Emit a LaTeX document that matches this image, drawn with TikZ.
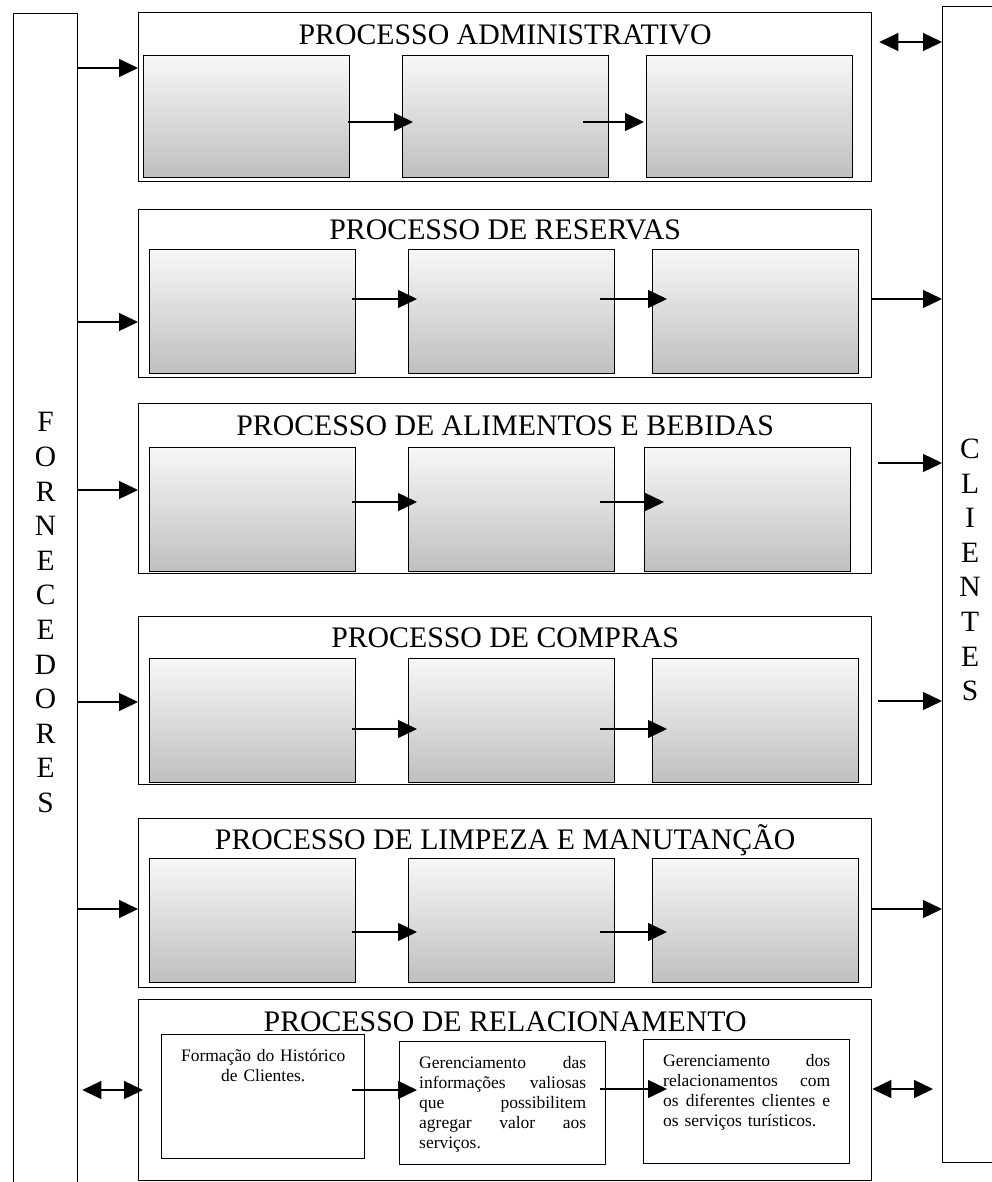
\documentclass[tikz,border=0pt]{standalone}
\usepackage{fontspec}
\setmainfont{Liberation Serif}
\usetikzlibrary{positioning}
\usetikzlibrary{arrows.meta}
\newcommand{\linhaj}[1]{\leavevmode\hbox to 167pt{#1}}
\tikzset{
 processo/.style={
 rectangle, anchor=north west,
 draw=black, line width=1.3pt,
 minimum width=733pt,
 minimum height=169pt},
 etapa/.style={
 rectangle, anchor=north west,
 draw=black, line width=1.4pt,
 top color=black!3, bottom color=black!25,
 minimum width=206pt,
 minimum height=124pt},
 caixa/.style={
 rectangle, anchor=north west,
 draw=black, line width=1.4pt, fill=white,
 minimum width=206pt,
 minimum height=124pt},
 lateral/.style={
 rectangle, anchor=north west,
 draw=black, line width=1.3pt,
 minimum width=64pt},
 letras/.style={
 align=center, inner sep=0pt,
 font=\fontsize{29.5}{34.6}\selectfont},
 titulo/.style={
 anchor=base, inner sep=0pt,
 font=\fontsize{29.8}{34.6}\selectfont},
 texto/.style={
 anchor=north, inner sep=0pt,
 text width=167pt,
 font=\fontsize{17.5}{20}\selectfont},
 seta/.style={
 line width=1.3pt, -{Triangle[length=19pt,width=18pt]}},
 dupla/.style={
 line width=1.3pt, {Triangle[length=19pt,width=18pt]}-{Triangle[length=19pt,width=18pt]}},
 fluxo/.style={seta, shorten <=-4pt, shorten >=-9pt},
 fluxob/.style={seta, shorten <=-15pt, shorten >=-15pt}
}

\begin{document}
\begin{tikzpicture}[x=1pt,y=-1pt]
 \useasboundingbox (0,0) rectangle (992,1182);

 \node[lateral, letras, minimum height=1198pt] (forn) at (13,13) {F\\O\\R\\N\\E\\C\\E\\D\\O\\R\\E\\S};
 \node[lateral, minimum width=70pt, minimum height=1156pt] (cli) at (942,6) {};
 \node[letras] (cliT) at (970,570) {C\\L\\I\\E\\N\\T\\E\\S};

 \node[processo] (adm) at (138,12) {};
 \node[etapa, minimum height=122pt] (adm1) at (143,55) {};
 \node[etapa, minimum height=122pt] (adm2) at (402,55) {};
 \node[etapa, minimum height=122pt] (adm3) at (646,55) {};
 \node[titulo] (admT) at ([yshift=-33pt]adm.north) {PROCESSO ADMINISTRATIVO};

 \node[processo, minimum height=168pt] (res) at (138,209) {};
 \node[etapa] (res1) at (149,249) {};
 \node[etapa] (res2) at (408,249) {};
 \node[etapa] (res3) at (652,249) {};
 \node[titulo] (resT) at ([yshift=-31pt]res.north) {PROCESSO DE RESERVAS};

 \node[processo, minimum height=170pt] (ali) at (138,403) {};
 \node[etapa] (ali1) at (149,447) {};
 \node[etapa] (ali2) at (408,447) {};
 \node[etapa] (ali3) at (644,447) {};
 \node[titulo] (aliT) at ([yshift=-32pt]ali.north) {PROCESSO DE ALIMENTOS E BEBIDAS};

 \node[processo, minimum height=168pt] (com) at (138,616) {};
 \node[etapa] (com1) at (149,658) {};
 \node[etapa] (com2) at (408,658) {};
 \node[etapa] (com3) at (652,658) {};
 \node[titulo] (comT) at ([yshift=-31pt]com.north) {PROCESSO DE COMPRAS};

 \node[processo] (lim) at (138,818) {};
 \node[etapa] (lim1) at (149,858) {};
 \node[etapa] (lim2) at (408,858) {};
 \node[etapa] (lim3) at (652,858) {};
 \node[titulo] (limT) at ([yshift=-31pt]lim.north) {PROCESSO DE LIMPEZA E MANUTANÇÃO};

 \node[processo, minimum height=181pt] (rel) at (138,999) {};
 \node[caixa, minimum width=203pt] (rel1) at (161,1034) {};
 \node[caixa, minimum height=123pt] (rel2) at (399,1041) {};
 \node[caixa] (rel3) at (643,1039) {};
 \node[titulo] (relT) at ([yshift=-32pt]rel.north) {PROCESSO DE RELACIONAMENTO};

 \node[texto, align=center, below=15pt of rel1.north] (rel1T) {Formação do Histórico\\de Clientes.};
 \node[texto, align=left, below=15pt of rel2.north] (rel2T) {\linhaj{Gerenciamento\hfill das}\\\linhaj{informações\hfill valiosas}\\\linhaj{que\hfill possibilitem}\\\linhaj{agregar\hfill valor\hfill aos}\\serviços.};
 \node[texto, align=left, below=15pt of rel3.north] (rel3T) {\linhaj{Gerenciamento\hfill dos}\\\linhaj{relacionamentos\hfill com}\\\linhaj{os\hfill diferentes\hfill clientes\hfill e}\\os serviços turísticos.};

 \draw[seta] (forn.east |- 0,68) -- (adm.west |- 0,68);
 \draw[seta] (forn.east |- 0,322) -- (res.west |- 0,322);
 \draw[seta] (forn.east |- 0,490) -- (ali.west |- 0,490);
 \draw[seta] (forn.east |- 0,702) -- (com.west |- 0,702);
 \draw[seta] (forn.east |- 0,909) -- (lim.west |- 0,909);
 \draw[dupla, shorten <=4pt, shorten >=-5pt] (forn.east |- 0,1090) -- (rel.west |- 0,1090);

 \draw[fluxo, shorten <=-2pt, shorten >=-11pt] (adm1.east |- 0,122) -- (adm2.west |- 0,122);
 \draw[fluxo, shorten <=-26pt, shorten >=2pt] (adm2.east |- 0,122) -- (adm3.west |- 0,122);
 \draw[fluxo] (res1.east |- 0,299) -- (res2.west |- 0,299);
 \draw[fluxob] (res2.east |- 0,299) -- (res3.west |- 0,299);
 \draw[fluxo] (ali1.east |- 0,502) -- (ali2.west |- 0,502);
 \draw[fluxob, shorten >=-20pt] (ali2.east |- 0,502) -- (ali3.west |- 0,502);
 \draw[fluxo] (com1.east |- 0,729) -- (com2.west |- 0,729);
 \draw[fluxob] (com2.east |- 0,729) -- (com3.west |- 0,729);
 \draw[fluxo] (lim1.east |- 0,932) -- (lim2.west |- 0,932);
 \draw[fluxob] (lim2.east |- 0,932) -- (lim3.west |- 0,932);
 \draw[fluxo, shorten <=-13pt, shorten >=-18pt] (rel1.east |- 0,1090) -- (rel2.west |- 0,1090);
 \draw[fluxo, shorten <=-6pt, shorten >=-24pt] (rel2.east |- 0,1089) -- (rel3.west |- 0,1089);

 \draw[dupla, shorten <=7pt] (adm.east |- 0,42) -- (cli.west |- 0,42);
 \draw[seta] (res.east |- 0,299) -- (cli.west |- 0,299);
 \draw[seta, shorten <=6pt] (ali.east |- 0,463) -- (cli.west |- 0,463);
 \draw[seta, shorten <=6pt] (com.east |- 0,701) -- (cli.west |- 0,701);
 \draw[seta] (lim.east |- 0,909) -- (cli.west |- 0,909);
 \draw[dupla, shorten >=9pt] (rel.east |- 0,1089) -- (cli.west |- 0,1089);
\end{tikzpicture}
\end{document}
